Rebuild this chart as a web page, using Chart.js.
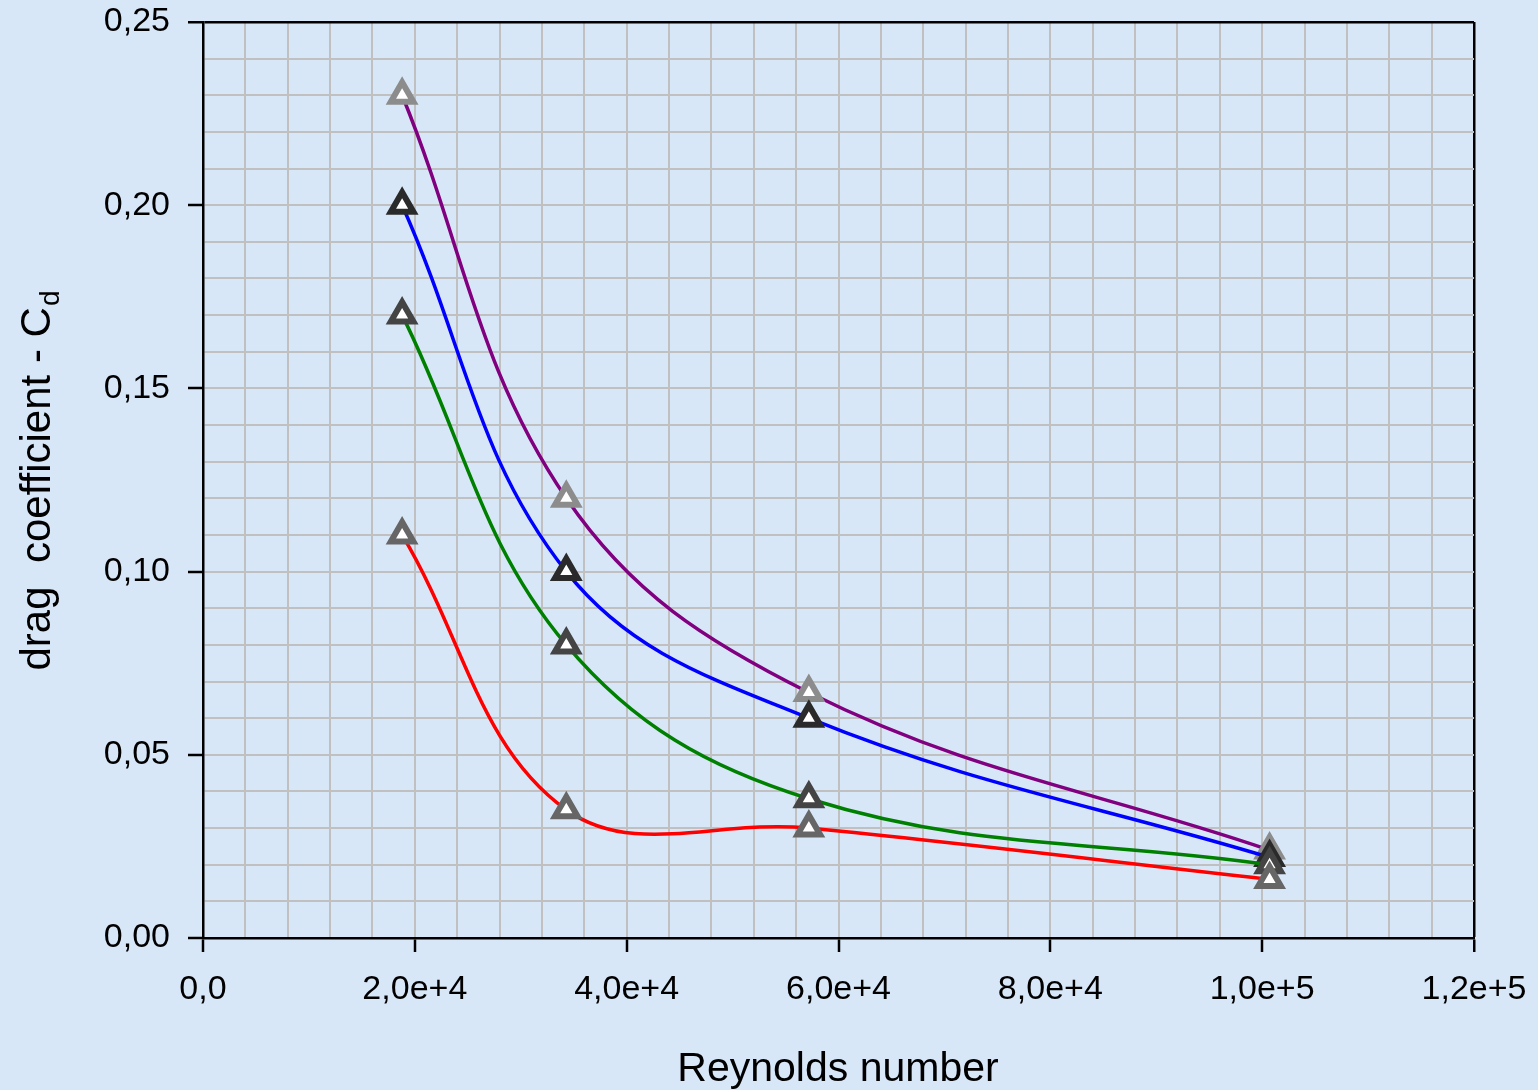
<!DOCTYPE html>
<html>
<head>
<meta charset="utf-8">
<script src="https://cdn.jsdelivr.net/npm/chart.js@4.4.1/dist/chart.umd.min.js"></script>
<style>
  html, body { margin: 0; padding: 0; background: #d8e7f8; }
  #wrap { width: 1538px; height: 1090px; }
</style>
</head>
<body>
<div id="wrap"><canvas id="c" width="1538" height="1090"></canvas></div>
<script>
// Reynolds numbers of the four measurements
const reynolds = [18800, 34300, 57200, 100700];

// drag coefficient per series
const cdPurple = [0.230, 0.120, 0.067, 0.024];
const cdBlue = [0.200, 0.100, 0.060, 0.022];
const cdGreen = [0.170, 0.080, 0.038, 0.020];
const cdRed = [0.110, 0.035, 0.030, 0.016];

const xMajor = [0, 20000, 40000, 60000, 80000, 100000, 120000];
const yMajor = [0, 0.05, 0.10, 0.15, 0.20, 0.25];

const FONT = '"Liberation Sans", Arial, sans-serif';

function pts(ys) {
  return reynolds.map((x, i) => ({ x, y: ys[i] }));
}

function fmtX(v) {
  if (v === 0) return '0,0';
  const e = Math.floor(Math.log10(v));
  const m = v / Math.pow(10, e);
  return m.toFixed(1).replace('.', ',') + 'e+' + e;
}

const isMajorX = (v) => xMajor.includes(v);
const isMajorY = (v) => yMajor.some((m) => Math.abs(m - v) < 1e-9);

function series(data, line, marker) {
  return {
    data: pts(data),
    borderColor: line,
    borderWidth: 3.5,
    tension: 0.38,
    pointStyle: 'triangle',
    pointRadius: 13,
    pointHoverRadius: 13,
    pointBorderWidth: 6,
    pointBackgroundColor: '#ffffff',
    pointBorderColor: marker,
  };
}

// 背景と軸タイトル
const deco = {
  id: 'deco',
  beforeDraw(chart) {
    const ctx = chart.ctx;
    ctx.save();
    ctx.fillStyle = '#d8e7f8';
    ctx.fillRect(0, 0, chart.width, chart.height);
    ctx.restore();
  },
  afterDraw(chart) {
    const ctx = chart.ctx;
    ctx.save();
    ctx.fillStyle = '#000';
    ctx.font = '41px ' + FONT;
    ctx.textAlign = 'center';
    ctx.textBaseline = 'alphabetic';
    ctx.fillText('Reynolds number', 838, 1081);

    // y title with subscript
    const main = 'drag  coefficient - C';
    const sub = 'd';
    ctx.font = '42px ' + FONT;
    const wMain = ctx.measureText(main).width;
    ctx.font = '28px ' + FONT;
    const wSub = ctx.measureText(sub).width;
    const total = wMain + wSub;
    ctx.translate(50, 481);
    ctx.rotate(-Math.PI / 2);
    ctx.textAlign = 'left';
    ctx.font = '42px ' + FONT;
    ctx.fillText(main, -total / 2, 0);
    ctx.font = '28px ' + FONT;
    ctx.fillText(sub, -total / 2 + wMain + 1, 9);
    ctx.restore();
  },
};

new Chart(document.getElementById('c'), {
  type: 'line',
  data: {
    datasets: [
      series(cdRed, '#ff0000', '#666666'),
      series(cdGreen, '#008000', '#444444'),
      series(cdBlue, '#0000ff', '#2a2a2a'),
      series(cdPurple, '#800080', '#8c8c8c'),
    ],
  },
  options: {
    responsive: false,
    animation: false,
    layout: { padding: { left: 0, top: 22, right: 64, bottom: 0 } },
    plugins: {
      legend: { display: false },
      tooltip: { enabled: false },
    },
    scales: {
      x: {
        type: 'linear',
        min: 0,
        max: 120000,
        afterFit(scale) {
          scale.height = 152;
          scale.paddingLeft = 0;
          scale.paddingRight = 0;
        },
        border: { display: true, color: '#000', width: 2.5 },
        grid: {
          color: (c) => (c.tick && c.tick.value === 120000 ? '#000' : '#c0c0c0'),
          lineWidth: (c) => (c.tick && c.tick.value === 120000 ? 2.5 : 2),
          tickColor: (c) => (c.tick && isMajorX(c.tick.value) ? '#000' : 'rgba(0,0,0,0)'),
          tickWidth: 2.5,
          tickLength: 14,
        },
        ticks: {
          stepSize: 4000,
          autoSkip: false,
          maxRotation: 0,
          padding: 17,
          color: '#000',
          font: { family: FONT, size: 34 },
          callback: (v) => (isMajorX(v) ? fmtX(v) : ''),
        },
      },
      y: {
        type: 'linear',
        min: 0,
        max: 0.25,
        afterFit(scale) {
          scale.width = 203;
          scale.paddingTop = 0;
          scale.paddingBottom = 0;
        },
        border: { display: true, color: '#000', width: 2.5 },
        grid: {
          color: (c) => (c.tick && Math.abs(c.tick.value - 0.25) < 1e-9 ? '#000' : '#c0c0c0'),
          lineWidth: (c) => (c.tick && Math.abs(c.tick.value - 0.25) < 1e-9 ? 2.5 : 2),
          tickColor: (c) => (c.tick && isMajorY(c.tick.value) ? '#000' : 'rgba(0,0,0,0)'),
          tickWidth: 2.5,
          tickLength: 15,
        },
        ticks: {
          stepSize: 0.01,
          autoSkip: false,
          padding: 18,
          color: '#000',
          font: { family: FONT, size: 34 },
          callback: (v) => (isMajorY(v) ? v.toFixed(2).replace('.', ',') : ''),
        },
      },
    },
  },
  plugins: [deco],
});
</script>
</body>
</html>
